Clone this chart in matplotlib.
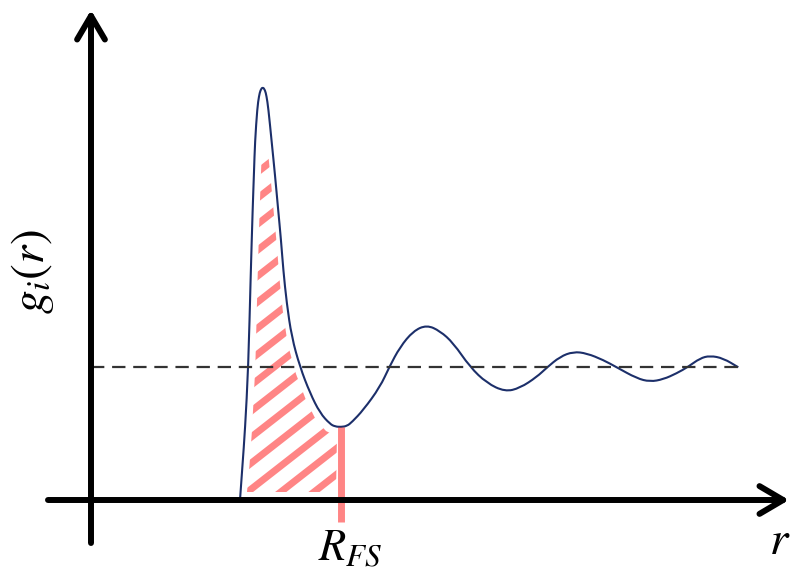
import numpy as np
import matplotlib
matplotlib.use("Agg")
import matplotlib.pyplot as plt
from matplotlib.collections import LineCollection
from matplotlib.patches import Polygon, PathPatch
from matplotlib.path import Path

plt.rcParams['mathtext.fontset'] = 'stix'

# ---- data (pixel-space coordinates, y grows downward) ----
curve_x = [240, 242.5, 245, 248.3, 250.7, 252.7, 254, 255, 257.3, 259, 260.5, 262.7,
           265, 266.5, 268.3, 271.7, 275, 278, 281, 283.3, 286.7, 291.7, 300, 310,
           320, 330, 335, 341, 347, 352, 363.3, 380, 389.3, 400, 413.3, 426.7, 440,
           453.3, 470, 486.7, 505, 520, 536.7, 546.7, 560, 573.3, 586.7, 603.3, 616.7,
           636.7, 650, 663.3, 676.7, 688.3, 700, 710, 723.3, 738.3]
curve_y = [500, 465, 430, 367, 275, 208, 172, 142, 108, 96, 90, 87,
           90, 96, 108, 142, 175, 208, 240, 270, 303, 337, 367, 393,
           413, 424, 426.5, 427, 426, 422, 410, 387, 367, 347, 331, 325, 331,
           343, 367, 383, 391.7, 388, 377, 367.7, 356.7, 351.7, 353.3, 360, 367.3,
           378.3, 381.7, 379.3, 373.3, 366.7, 358.3, 355.7, 358.3, 367.3]
bulk_level = 367          # g(r) = 1 reference line
r_fs = 341                # first-shell cutoff
axis_origin = (91, 500)

curve_x = np.array(curve_x, dtype=float)
curve_y = np.array(curve_y, dtype=float)

fig = plt.figure(figsize=(7.95, 5.74), dpi=100)
ax = fig.add_axes([0, 0, 1, 1])
ax.set_xlim(0, 795)
ax.set_ylim(574, 0)
ax.axis('off')

red = (1.0, 0.05, 0.05)

# ---- hatched first-shell area ----
first = curve_x <= r_fs
px = curve_x[first]
py = curve_y[first]
ipk = int(np.argmin(py))
left_x = px[:ipk + 1] + 7
left_y = py[:ipk + 1]
right_x = px[ipk:] - 4
right_y = py[ipk:] + 7
poly_x = np.concatenate([left_x, right_x, [r_fs - 5, left_x[0]]])
poly_y = np.concatenate([left_y, right_y, [492, 492]])
poly_y = np.clip(poly_y, 148, 492)
clip = Polygon(np.column_stack([poly_x, poly_y]), closed=True, facecolor='none',
               edgecolor='none')
ax.add_patch(clip)

theta = np.deg2rad(38)
spacing = 26
segs = []
for c in np.arange(152 + 250 * np.tan(theta), 520 + 360 * np.tan(theta), spacing):
    xs = np.array([200, 400])
    segs.append(np.column_stack([xs, c - np.tan(theta) * xs]))
lc = LineCollection(segs, colors=[red], alpha=0.5, linewidths=5.0, capstyle='butt')
lc.set_clip_path(clip)
ax.add_collection(lc)

# ---- axes arrows ----
arrow_kw = dict(arrowstyle='->,head_length=0.85,head_width=0.5', lw=4.3,
                color='black', shrinkA=0, shrinkB=0, mutation_scale=20)
ax.annotate('', xy=(axis_origin[0], 10), xytext=(axis_origin[0], 543), arrowprops=arrow_kw)
ax.annotate('', xy=(789, axis_origin[1]), xytext=(48, axis_origin[1]), arrowprops=arrow_kw)

# ---- reference line ----
ax.plot([axis_origin[0], curve_x[-1]], [bulk_level, bulk_level], color='#333333',
        lw=1.6, dashes=(6, 3.5))

# ---- R_FS marker ----
ymin_idx = int(np.argmin(np.abs(curve_x - r_fs)))
ax.plot([r_fs, r_fs], [curve_y[ymin_idx], 522], color=red, alpha=0.5, lw=5.0,
        solid_capstyle='butt')

# ---- g(r) curve (smooth quadratic path through the read points) ----
pts = np.column_stack([curve_x, curve_y])
verts = [pts[0]]
codes = [Path.MOVETO]
for i in range(1, len(pts) - 1):
    verts += [pts[i], (pts[i] + pts[i + 1]) / 2]
    codes += [Path.CURVE3, Path.CURVE3]
verts.append(pts[-1])
codes.append(Path.LINETO)
ax.add_patch(PathPatch(Path(verts, codes), facecolor='none', edgecolor='#1c2f6a',
                       lw=1.5, joinstyle='round'))

# ---- labels ----
ax.text(33, 272, r'$g_i(r)$', rotation=90, ha='center', va='center', fontsize=34)
ax.text(350, 548, r'$R_{FS}$', ha='center', va='center', fontsize=32)
ax.text(780, 542, r'$r$', ha='center', va='center', fontsize=34)

fig.savefig('out.png', dpi=100)
